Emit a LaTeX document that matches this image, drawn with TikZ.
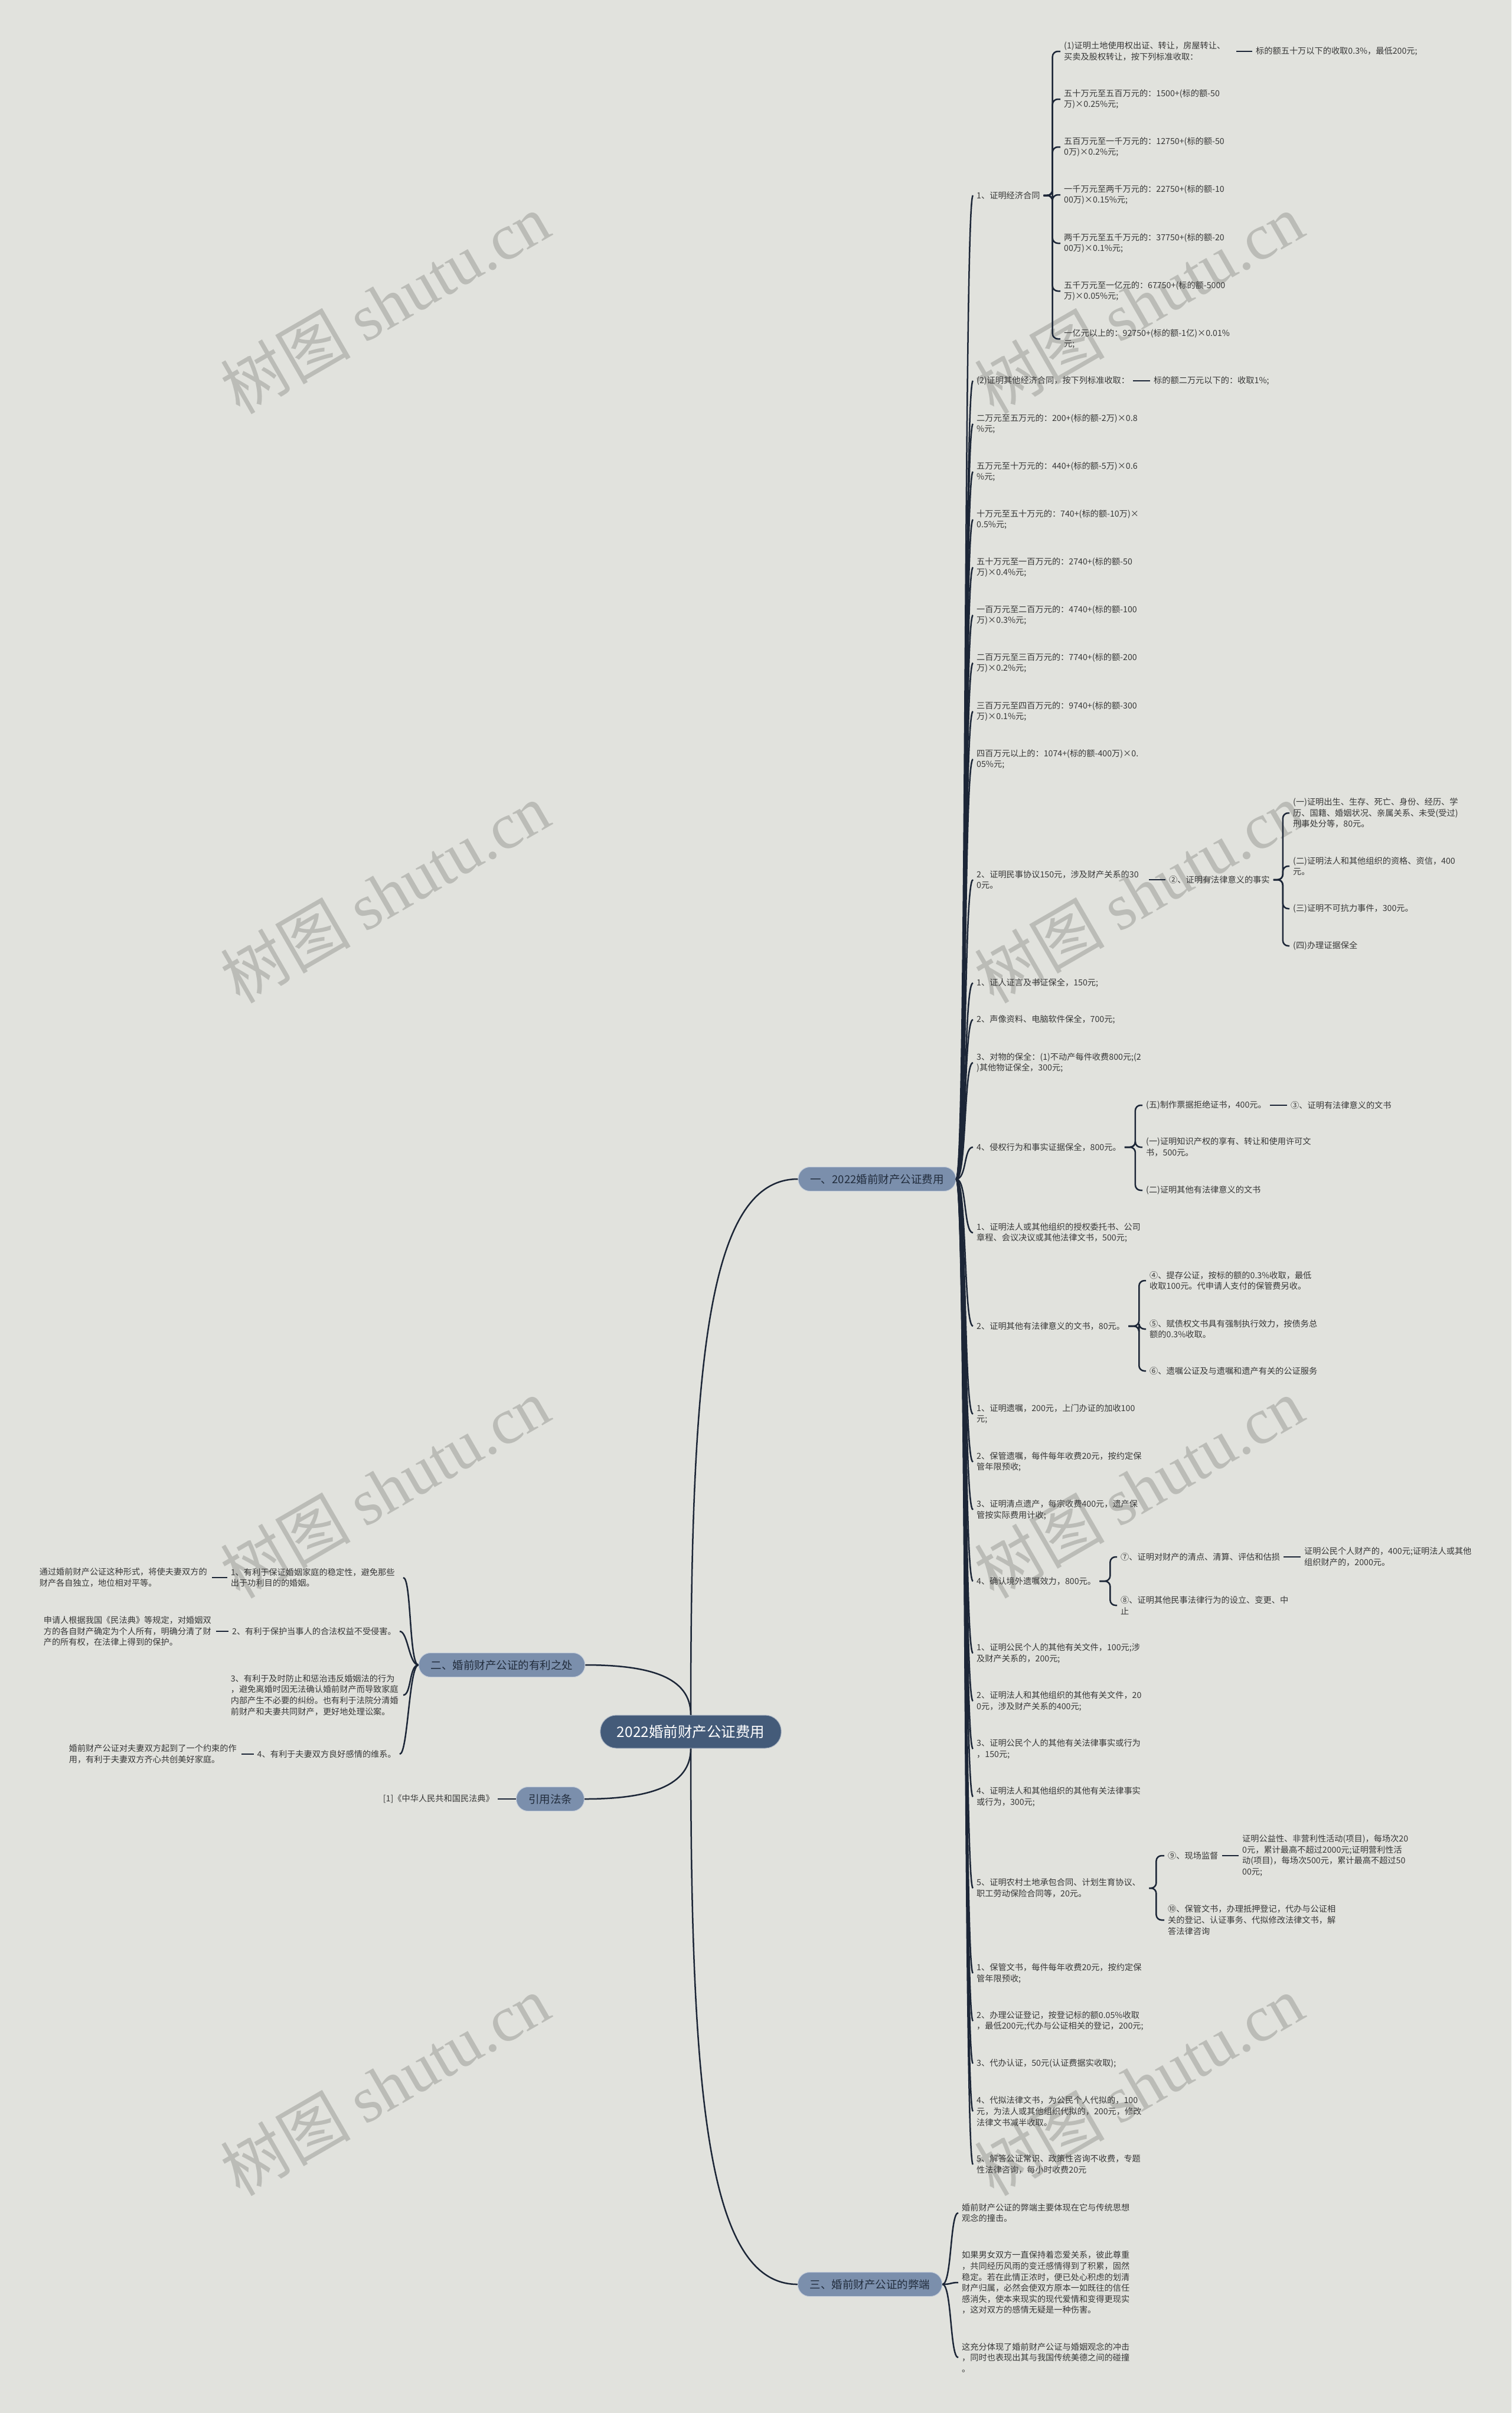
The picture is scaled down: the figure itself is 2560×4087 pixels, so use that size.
\documentclass[tikz,border=0pt]{standalone}
\usepackage{fontspec}
\setmainfont{Noto Sans CJK SC}
\newfontfamily\wmlatin{Liberation Serif}

\definecolor{bgcol}{HTML}{E1E2DD}
\definecolor{rootcol}{HTML}{445B79}
\definecolor{brcol}{HTML}{7B8FAC}
\definecolor{brtxt}{HTML}{222D3D}
\definecolor{linecol}{HTML}{1C2637}
\definecolor{txtcol}{HTML}{383838}
\definecolor{wmcol}{HTML}{BBBCB7}

\tikzset{
    leaf/.style={anchor=west, inner xsep=6pt, inner ysep=3pt, align=left,
                 text=txtcol, font=\fontsize{14.2}{18.6}\selectfont},
    wrap/.style={leaf, text width=286pt},
    lleaf/.style={leaf, anchor=east},
    lwrap/.style={wrap, anchor=east},
    branch/.style={fill=brcol, draw=white!55!brcol, line width=1pt, text=brtxt,
                   rounded corners=20pt, minimum height=41pt,
                   inner xsep=20.5pt, font=\fontsize{18.5}{22}\selectfont},
    root/.style={fill=rootcol, draw=white!55!rootcol, line width=1pt, text=white,
                 rounded corners=27pt, minimum height=56pt,
                 inner xsep=28pt, font=\fontsize{24.5}{28}\selectfont},
    link/.style={draw=linecol, line width=2.5pt},
    brace/.style={link, rounded corners=9pt},
    wmark/.style={text=wmcol, rotate=30, font=\fontsize{110}{120}\selectfont}
}

\begin{document}
\begin{tikzpicture}[x=1pt, y={(0pt,-1pt)}]
    \fill[bgcol] (0,0) rectangle (2560,4087);
    \useasboundingbox (0,0) rectangle (2560,4087);

    % watermarks
    \foreach \wx in {652,1929}
        \foreach \wy in {514,1512,2520,3532}
            \node[wmark] at (\wx,\wy) {树图 {\wmlatin shutu.cn}};

    % root and branches
    \node[root] (root) at (1170,2933) {2022婚前财产公证费用};
    \node[branch] (br1) at (1485.5,1997) {一、2022婚前财产公证费用};
    \node[branch] (br2) at (850,2820) {二、婚前财产公证的有利之处};
    \node[branch] (br3) at (1473.5,3869) {三、婚前财产公证的弊端};
    \node[branch] (br4) at (932,3047) {引用法条};

    \draw[link] (root.north) .. controls (1170,2300) and (1200,1997) .. (br1.west);
    \draw[link] (root.south) .. controls (1170,3560) and (1200,3869) .. (br3.west);
    \draw[link] (br2.east) .. controls (1100,2820) and (1170,2840) .. (root.north);
    \draw[link] (br4.east) .. controls (1100,3047) and (1170,3025) .. (root.south);

    % fees
    \node[leaf] (r1) at (1648,331) {1、证明经济合同};
    \node[leaf] (r2) at (1648,645) {(2)证明其他经济合同，按下列标准收取：};
    \node[wrap] (r3) at (1648,718) {二万元至五万元的：200+(标的额-2万)×0.8\\\%元;};
    \node[wrap] (r4) at (1648,799) {五万元至十万元的：440+(标的额-5万)×0.6\\\%元;};
    \node[wrap] (r5) at (1648,880) {十万元至五十万元的：740+(标的额-10万)×\\0.5\%元;};
    \node[wrap] (r6) at (1648,961) {五十万元至一百万元的：2740+(标的额-50\\万)×0.4\%元;};
    \node[wrap] (r7) at (1648,1042) {一百万元至二百万元的：4740+(标的额-100\\万)×0.3\%元;};
    \node[wrap] (r8) at (1648,1123) {二百万元至三百万元的：7740+(标的额-200\\万)×0.2\%元;};
    \node[wrap] (r9) at (1648,1205) {三百万元至四百万元的：9740+(标的额-300\\万)×0.1\%元;};
    \node[wrap] (r10) at (1648,1286) {四百万元以上的：1074+(标的额-400万)×0.\\05\%元;};
    \node[wrap] (r11) at (1648,1490) {2、证明民事协议150元，涉及财产关系的30\\0元。};
    \node[leaf] (r12) at (1648,1665) {1、证人证言及书证保全，150元;};
    \node[leaf] (r13) at (1648,1727) {2、声像资料、电脑软件保全，700元;};
    \node[wrap] (r14) at (1648,1800) {3、对物的保全：(1)不动产每件收费800元;(2\\)其他物证保全，300元;};
    \node[leaf] (r15) at (1648,1943) {4、侵权行为和事实证据保全，800元。};
    \node[wrap] (r16) at (1648,2088) {1、证明法人或其他组织的授权委托书、公司\\章程、会议决议或其他法律文书，500元;};
    \node[leaf] (r17) at (1648,2246) {2、证明其他有法律意义的文书，80元。};
    \node[wrap] (r18) at (1648,2395) {1、证明遗嘱，200元，上门办证的加收100\\元;};
    \node[wrap] (r19) at (1648,2476) {2、保管遗嘱，每件每年收费20元，按约定保\\管年限预收;};
    \node[wrap] (r20) at (1648,2557) {3、证明清点遗产，每宗收费400元，遗产保\\管按实际费用计收;};
    \node[leaf] (r21) at (1648,2678) {4、确认境外遗嘱效力，800元。};
    \node[wrap] (r22) at (1648,2800) {1、证明公民个人的其他有关文件，100元;涉\\及财产关系的，200元;};
    \node[wrap] (r23) at (1648,2881) {2、证明法人和其他组织的其他有关文件，20\\0元，涉及财产关系的400元;};
    \node[wrap] (r24) at (1648,2962) {3、证明公民个人的其他有关法律事实或行为\\，150元;};
    \node[wrap] (r25) at (1648,3043) {4、证明法人和其他组织的其他有关法律事实\\或行为，300元;};
    \node[wrap] (r26) at (1648,3198) {5、证明农村土地承包合同、计划生育协议、\\职工劳动保险合同等，20元。};
    \node[wrap] (r27) at (1648,3342) {1、保管文书，每件每年收费20元，按约定保\\管年限预收;};
    \node[wrap] (r28) at (1648,3423) {2、办理公证登记，按登记标的额0.05\%收取\\，最低200元;代办与公证相关的登记，200元;};
    \node[leaf] (r29) at (1648,3495) {3、代办认证，50元(认证费据实收取);};
    \node[wrap] (r30) at (1648,3576) {4、代拟法律文书，为公民个人代拟的，100\\元，为法人或其他组织代拟的，200元，修改\\法律文书减半收取。};
    \node[wrap] (r31) at (1648,3666) {5、解答公证常识、政策性咨询不收费，专题\\性法律咨询，每小时收费20元};

    \foreach \n in {r1,r2,r3,r4,r5,r6,r7,r8,r9,r10,r11,r12,r13,r14,r15,r16,
                    r17,r18,r19,r20,r21,r22,r23,r24,r25,r26,r27,r28,r29,r30,r31}
        \draw[link] (br1.east) .. controls +(18,0) and +(-16,0) .. (\n.west);

    \node[wrap] (r1a) at (1796,87) {(1)证明土地使用权出证、转让，房屋转让、\\买卖及股权转让，按下列标准收取：};
    \node[leaf] (r1aa) at (2121,87) {标的额五十万以下的收取0.3\%，最低200元;};
    \node[wrap] (r1b) at (1796,168) {五十万元至五百万元的：1500+(标的额-50\\万)×0.25\%元;};
    \node[wrap] (r1c) at (1796,249) {五百万元至一千万元的：12750+(标的额-50\\0万)×0.2\%元;};
    \node[wrap] (r1d) at (1796,330) {一千万元至两千万元的：22750+(标的额-10\\00万)×0.15\%元;};
    \node[wrap] (r1e) at (1796,412) {两千万元至五千万元的：37750+(标的额-20\\00万)×0.1\%元;};
    \node[wrap] (r1f) at (1796,493) {五千万元至一亿元的：67750+(标的额-5000\\万)×0.05\%元;};
    \node[wrap] (r1g) at (1796,574) {一亿元以上的：92750+(标的额-1亿)×0.01\%\\元;};
    \foreach \n in {r1a,r1b,r1c,r1d,r1e,r1f,r1g}
        \draw[brace] (r1.east) -- ++(15,0) |- (\n.west);
    \draw[link] (r1a.east) -- (r1aa.west);

    \node[leaf] (r2a) at (1948,645) {标的额二万元以下的：收取1\%;};
    \draw[link] (r2.east) -- (r2a.west);

    \node[leaf] (r11a) at (1974,1490) {②、证明有法律意义的事实};
    \node[wrap] (r11b) at (2184,1377) {(一)证明出生、生存、死亡、身份、经历、学\\历、国籍、婚姻状况、亲属关系、未受(受过)\\刑事处分等，80元。};
    \node[wrap] (r11c) at (2184,1467) {(二)证明法人和其他组织的资格、资信，400\\元。};
    \node[leaf] (r11d) at (2184,1539) {(三)证明不可抗力事件，300元。};
    \node[leaf] (r11e) at (2184,1602) {(四)办理证据保全};
    \draw[link] (r11.east) -- (r11a.west);
    \foreach \n in {r11b,r11c,r11d,r11e}
        \draw[brace] (r11a.east) -- ++(16,0) |- (\n.west);

    \node[leaf] (r15a) at (1935,1872) {(五)制作票据拒绝证书，400元。};
    \node[leaf] (r15aa) at (2180,1872) {③、证明有法律意义的文书};
    \node[wrap] (r15b) at (1935,1943) {(一)证明知识产权的享有、转让和使用许可文\\书，500元。};
    \node[leaf] (r15c) at (1935,2016) {(二)证明其他有法律意义的文书};
    \foreach \n in {r15a,r15b,r15c}
        \draw[brace] (r15.east) -- ++(18,0) |- (\n.west);
    \draw[link] (r15a.east) -- (r15aa.west);

    \node[wrap] (r17a) at (1941,2169) {④、提存公证，按标的额的0.3\%收取，最低\\收取100元。代申请人支付的保管费另收。};
    \node[wrap] (r17b) at (1941,2251) {⑤、赋债权文书具有强制执行效力，按债务总\\额的0.3\%收取。};
    \node[leaf] (r17c) at (1941,2322) {⑥、遗嘱公证及与遗嘱和遗产有关的公证服务};
    \foreach \n in {r17a,r17b,r17c}
        \draw[brace] (r17.east) -- ++(18,0) |- (\n.west);

    \node[leaf] (r21a) at (1892,2637) {⑦、证明对财产的清点、清算、评估和估损};
    \node[wrap] (r21aa) at (2203,2637) {证明公民个人财产的，400元;证明法人或其他\\组织财产的，2000元。};
    \node[wrap] (r21b) at (1892,2719) {⑧、证明其他民事法律行为的设立、变更、中\\止};
    \foreach \n in {r21a,r21b}
        \draw[brace] (r21.east) -- ++(18,0) |- (\n.west);
    \draw[link] (r21a.east) -- (r21aa.west);

    \node[leaf] (r26a) at (1972,3143) {⑨、现场监督};
    \node[wrap] (r26aa) at (2098,3143) {证明公益性、非营利性活动(项目)，每场次20\\0元，累计最高不超过2000元;证明营利性活\\动(项目)，每场次500元，累计最高不超过50\\00元;};
    \node[wrap] (r26b) at (1972,3252) {⑩、保管文书，办理抵押登记，代办与公证相\\关的登记、认证事务、代拟修改法律文书，解\\答法律咨询};
    \foreach \n in {r26a,r26b}
        \draw[brace] (r26.east) -- ++(12,0) |- (\n.west);
    \draw[link] (r26a.east) -- (r26aa.west);

    % advantages
    \node[lwrap] (b1) at (683,2672) {1、有利于保证婚姻家庭的稳定性，避免那些\\出于功利目的的婚姻。};
    \node[lleaf] (b2) at (677,2763) {2、有利于保护当事人的合法权益不受侵害。};
    \node[lwrap] (b3) at (683,2871) {3、有利于及时防止和惩治违反婚姻法的行为\\，避免离婚时因无法确认婚前财产而导致家庭\\内部产生不必要的纠纷。也有利于法院分清婚\\前财产和夫妻共同财产，更好地处理讼案。};
    \node[lleaf] (b4) at (677,2971) {4、有利于夫妻双方良好感情的维系。};
    \foreach \n in {b1,b2,b3,b4}
        \draw[link] (br2.west) .. controls +(-16,0) and +(14,0) .. (\n.east);

    \node[lwrap] (b1a) at (359,2672) {通过婚前财产公证这种形式，将使夫妻双方的\\财产各自独立，地位相对平等。};
    \node[lwrap] (b2a) at (366,2763) {申请人根据我国《民法典》等规定，对婚姻双\\方的各自财产确定为个人所有，明确分清了财\\产的所有权，在法律上得到的保护。};
    \node[lwrap] (b4a) at (409,2971) {婚前财产公证对夫妻双方起到了一个约束的作\\用，有利于夫妻双方齐心共创美好家庭。};
    \draw[link] (b1.west) -- (b1a.east);
    \draw[link] (b2.west) -- (b2a.east);
    \draw[link] (b4.west) -- (b4a.east);

    % law
    \node[lleaf] (br4a) at (843,3047) {[1]《中华人民共和国民法典》};
    \draw[link] (br4.west) -- (br4a.east);

    % drawbacks
    \node[wrap] (c1) at (1623,3748) {婚前财产公证的弊端主要体现在它与传统思想\\观念的撞击。};
    \node[wrap] (c2) at (1623,3866) {如果男女双方一直保持着恋爱关系，彼此尊重\\，共同经历风雨的变迁感情得到了积累，固然\\稳定。若在此情正浓时，便已处心积虑的划清\\财产归属，必然会使双方原本一如既往的信任\\感消失，使本来现实的现代爱情和变得更现实\\，这对双方的感情无疑是一种伤害。};
    \node[wrap] (c3) at (1623,3993) {这充分体现了婚前财产公证与婚姻观念的冲击\\，同时也表现出其与我国传统美德之间的碰撞\\。};
    \foreach \n in {c1,c2,c3}
        \draw[link] (br3.east) .. controls +(16,0) and +(-14,0) .. (\n.west);
\end{tikzpicture}
\end{document}
